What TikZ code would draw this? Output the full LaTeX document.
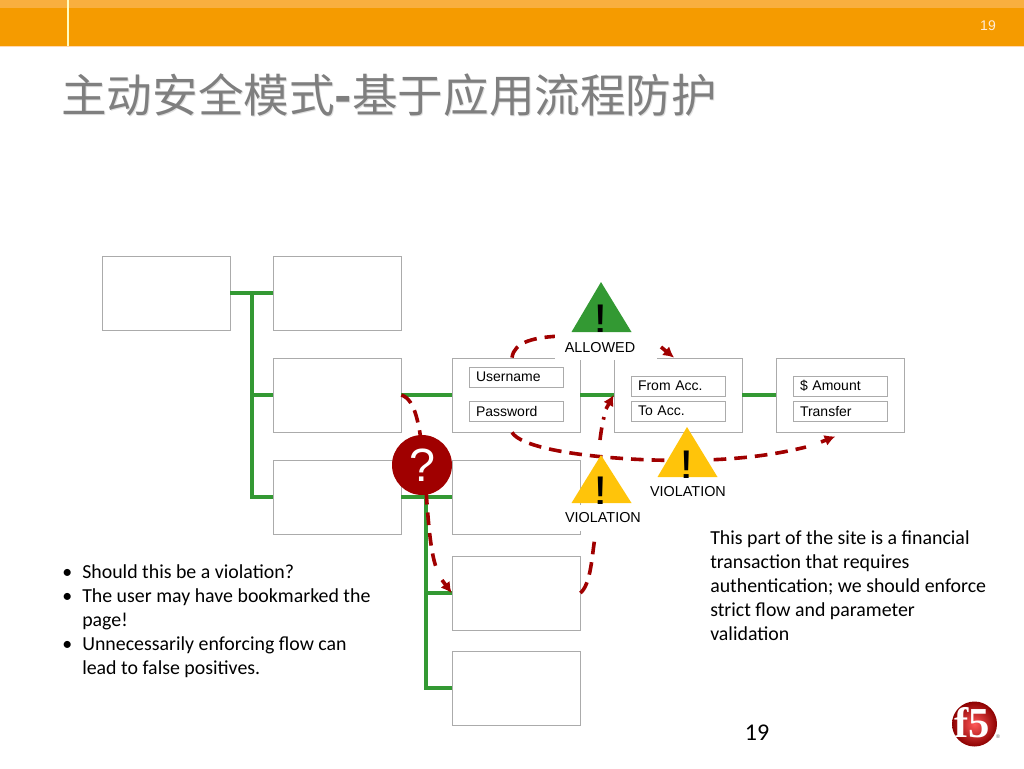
\documentclass[tikz,border=0pt]{standalone}
\usepackage{fontspec}
\setmainfont{Liberation Sans}
\newfontfamily\cjk{Noto Sans CJK SC}
\newfontfamily\bodyfont{Carlito}
\newfontfamily\logofont{Liberation Serif}
\usetikzlibrary{arrows.meta,calc}
\definecolor{barOrange}{HTML}{F59B00}
\definecolor{barLight}{HTML}{F9AF3F}
\definecolor{boxGray}{HTML}{ABABAB}
\definecolor{flowGreen}{HTML}{339933}
\definecolor{flowRed}{HTML}{A00000}
\definecolor{warnYellow}{HTML}{FFC40A}
\definecolor{titleGray}{HTML}{7F7F7F}
\tikzset{
  pagebox/.style={draw=boxGray,line width=.6pt,fill=white,minimum width=96pt,minimum height=55.5pt,inner sep=0pt},
  fieldbox/.style={draw=boxGray,line width=.6pt,fill=white,text width=60pt,inner xsep=5.25pt,inner ysep=0pt,minimum height=15pt,font=\fontsize{10.5}{12}\selectfont,align=left},
  tree/.style={draw=flowGreen,line width=2.4pt},
  flow/.style={draw=flowRed,line width=2.7pt,dash pattern=on 9.5pt off 6pt},
  flowtip/.style={draw=flowRed,line width=2.7pt,-{Latex[length=8pt,width=8.5pt]}},
  bang/.style={font=\fontsize{30}{30}\selectfont,inner sep=0pt,anchor=base,text=black,transform shape,xscale=1.3},
  mask/.style={fill=white,draw=none,inner sep=0pt},
  tagtext/.style={font=\fontsize{10.8}{12}\selectfont,inner sep=0pt,text=black},
  bodytext/.style={font=\bodyfont\fontsize{14.9}{18}\selectfont,align=left,anchor=north west,inner sep=0pt,text=black}
}
\newcommand{\bl}[1]{\makebox[15pt][l]{\textbullet}#1}
\begin{document}
\begin{tikzpicture}[x=.75pt,y=-.75pt]
\useasboundingbox (0,0) rectangle (1024,768);
% header
\fill[barOrange] (0,0) rectangle (1024,46);
\fill[barLight] (0,0) rectangle (1024,8);
\draw[white!75!yellow,line width=.9pt] (68,0) -- (68,46);
\draw[white!70!orange,line width=.8pt] (0,46.5) -- (1024,46.5);
\node[font=\fontsize{10.5}{12}\selectfont,text=white!85!orange,inner sep=0pt] (hdrnum) at (988,26) {19};
% title
\node[font=\cjk\fontsize{34.2}{40}\selectfont,text=black!12,anchor=west,inner sep=0pt] (titleshadow) at (62,96) {主动安全模式{\bfseries -}基于应用流程防护};
\node[font=\cjk\fontsize{34.2}{40}\selectfont,text=titleGray,anchor=west,inner sep=0pt] (title) at (61,95) {主动安全模式{\bfseries -}基于应用流程防护};
% pages
\node[pagebox] (a1) at (166,293) {};
\node[pagebox] (a2) at (337,293) {};
\node[pagebox] (b1) at (337,395) {};
\node[pagebox] (c1) at (337,497) {};
\node[pagebox] (login) at (516,395) {};
\node[pagebox] (acct) at (678,395) {};
\node[pagebox] (amount) at (840,395) {};
\node[pagebox] (c2) at (516,497) {};
\node[pagebox] (d2) at (516,593) {};
\node[pagebox] (e2) at (516,688) {};
% tree
\coordinate (j1) at (252,293);
\coordinate (j2) at (252,395);
\coordinate (j3) at (252,497);
\coordinate (k1) at (426,497);
\coordinate (k2) at (426,593);
\coordinate (k3) at (426,688);
\draw[tree] (a1.east) -- (a2.west);
\draw[tree] (j1) -- (j3) -- (c1.west);
\draw[tree] (j2) -- (b1.west);
\draw[tree] (b1.east) -- (login.west);
\draw[tree] (login.east) -- (acct.west);
\draw[tree] (acct.east) -- (amount.west);
\draw[tree] (c1.east) -- (c2.west);
\draw[tree] (k1) -- (k3) -- (e2.west);
\draw[tree] (k2) -- (d2.west);
% fields
\node[fieldbox] (f1) at (516,377) {Username};
\node[fieldbox] (f2) at (516,411) {Password};
\node[fieldbox] (f3) at (678,386) {From Acc.};
\node[fieldbox] (f4) at (678,411) {To Acc.};
\node[fieldbox] (f5) at (840,386) {\$ Amount};
\node[fieldbox] (f6) at (840,411) {Transfer};
% flows
\coordinate (t1) at (661,347);
\coordinate (t2) at (821,442);
\coordinate (t3) at (442,580);
\coordinate (t4) at (606,409);
\draw[flow] ([xshift=-3pt]login.north) .. controls +(2,-16) and (535,337) .. (562,336) .. controls (600,334) and (630,335) .. (650,340);
\draw[flowtip] (t1) -- ([xshift=-3pt]acct.north);
\draw[flow] ([xshift=-3pt]login.south) .. controls (520,446) and (570,456) .. (640,459.5) .. controls (720,463) and (770,456) .. (806,447);
\draw[flowtip] (t2) -- ([xshift=-3.5pt,yshift=-3pt]amount.south);
\draw[flow] (b1.east) .. controls (416,400) and (419,425) .. (424,460) .. controls (428,520) and (430,555) .. (438,572);
\draw[flowtip] (t3) -- (d2.west);
\draw[flow] (d2.east) .. controls (591,584) and (592,555) .. (595,537);
\draw[flow] (600,440) .. controls (601,432) and (602,425) .. (604,417);
\draw[flowtip] (t4) -- (acct.west);
% label masks
\fill[mask] (555,333) rectangle (657,359.5);
\fill[mask] (565,505) rectangle (641,531);
\fill[mask] (650,482) rectangle (727,501);
% warnings
\path[fill=flowGreen] (601,282) -- (631.5,332) -- (571.5,332) -- cycle;
\path[fill=warnYellow] (601,455) -- (631.5,503) -- (571.5,503) -- cycle;
\path[fill=warnYellow] (687,427) -- (717.5,477) -- (657.5,477) -- cycle;
\node[bang] (b1mark) at (601,332) {!};
\node[bang] (b2mark) at (601,504) {!};
\node[bang] (b3mark) at (687,478) {!};
\node[tagtext] (allowed) at (600,347.5) {ALLOWED};
\node[tagtext] (viol1) at (603,518) {VIOLATION};
\node[tagtext] (viol2) at (688,492) {VIOLATION};
% question
\node[circle,fill=flowRed,draw=none,minimum size=45pt,inner sep=0pt,text=white,font=\fontsize{35}{36}\selectfont] (q) at (422,465) {?};
% text
\node[bodytext] (leftnote) at (62,564.5) {\bl{Should this be a violation?}\\\bl{The user may have bookmarked the}\\\hspace*{15pt}page!\\\bl{Unnecessarily enforcing flow can}\\\hspace*{15pt}lead to false positives.};
\node[bodytext] (rightnote) at (710,530.5) {This part of the site is a financial\\transaction that requires\\authentication; we should enforce\\strict flow and parameter\\validation};
\node[font=\bodyfont\fontsize{18}{20}\selectfont,inner sep=0pt,text=black] (pagenum) at (757,733) {19};
% logo
\shade[inner color=red!65!white,outer color=red!55!black] (974.5,724) circle (22.5);
\node[font=\logofont\bfseries\fontsize{32}{32}\selectfont,text=white,inner sep=0pt] (logo) at (972.5,723) {f5};
\node[font=\fontsize{4}{5}\selectfont,text=black!60,inner sep=0pt] (logor) at (998,737) {®};
\end{tikzpicture}
\end{document}
